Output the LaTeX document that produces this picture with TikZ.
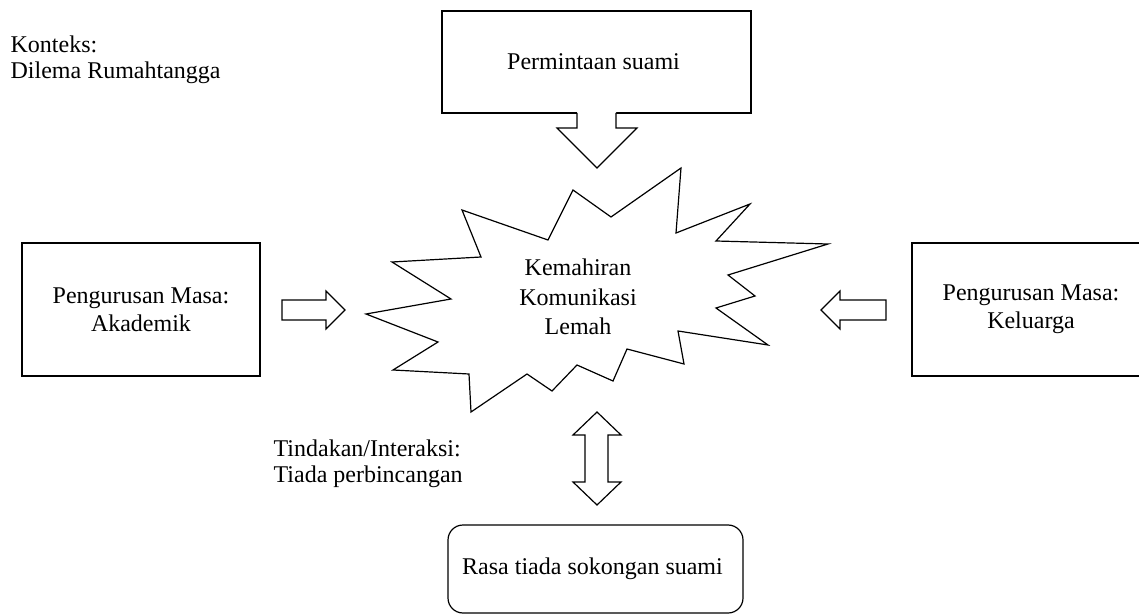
\documentclass[tikz,border=0pt]{standalone}
\usepackage{fontspec}
\setmainfont{Liberation Serif}
\usepackage{tikz}
\usetikzlibrary{shapes,arrows}

\begin{document}
\begin{tikzpicture}[x={(0.5pt,0)},y={(0,-0.5pt)},
                line width=0.6pt,line join=miter,
                every node/.style={font=\fontsize{12}{14}\selectfont,align=center},
                box/.style={draw,rectangle,minimum width=119pt,minimum height=66.5pt},
                word/.style={align=left,anchor=west,inner sep=0pt,font=\fontsize{12}{13}\selectfont}]
  \useasboundingbox (0,0) rectangle (1139,614);
  % kotak
  \node[box,minimum width=154.5pt,minimum height=51pt] (perm) at (596.5,62)  { Permintaan suami };
  \node[box]       (akad) at (141,309.5) { Pengurusan Masa:\\Akademik };
  \node[box]       (kel)  at (1031,309.5) { Pengurusan Masa:\\Keluarga };
  \node[box,rounded corners=7.5pt,minimum width=147.5pt,minimum height=44pt]
                   (rasa) at (595.5,569) { Rasa tiada sokongan suami };
  \node[word]      (konteks) at (10,60)  { Konteks:\\Dilema Rumahtangga };
  \node[word]      (tind) at (273,464)   { Tindakan/Interaksi:\\Tiada perbincangan };
  % letupan
  \draw (462,210) -- (548,240) -- (573,190) -- (611,217) -- (681,168) -- (676,233)
     -- (750,204) -- (716,241) -- (828,244) -- (728,275) -- (755,296) -- (716,308)
     -- (768,345) -- (678,331) -- (684,364) -- (627,349) -- (613,381) -- (577,365)
     -- (552,391) -- (527,374) -- (471,412) -- (469,374) -- (393,370) -- (438,342)
     -- (366,314) -- (451,299) -- (392,262) -- (481,257) -- cycle;
  \node[font=\fontsize{12}{14.75}\selectfont] (kemah) at (578,297) { Kemahiran\\Komunikasi\\Lemah };
  % anak panah
  \fill[white] (577,111) -- (577,128) -- (557,128) -- (597,168) -- (637,128) -- (616,128) -- (616,111) -- cycle;
  \draw (577,113) -- (577,128) -- (557,128) -- (597,168) -- (637,128) -- (616,128) -- (616,113);
  \draw (282,300) -- (326,300) -- (326,291) -- (345,310) -- (326,329) -- (326,320) -- (282,320) -- cycle;
  \draw (886,300) -- (840,300) -- (840,291) -- (821,310) -- (840,329) -- (840,320) -- (886,320) -- cycle;
  \draw (597,412) -- (621,435) -- (608,435) -- (608,482) -- (621,482) -- (597,505)
     -- (573,482) -- (585,482) -- (585,435) -- (573,435) -- cycle;
\end{tikzpicture}
\end{document}
